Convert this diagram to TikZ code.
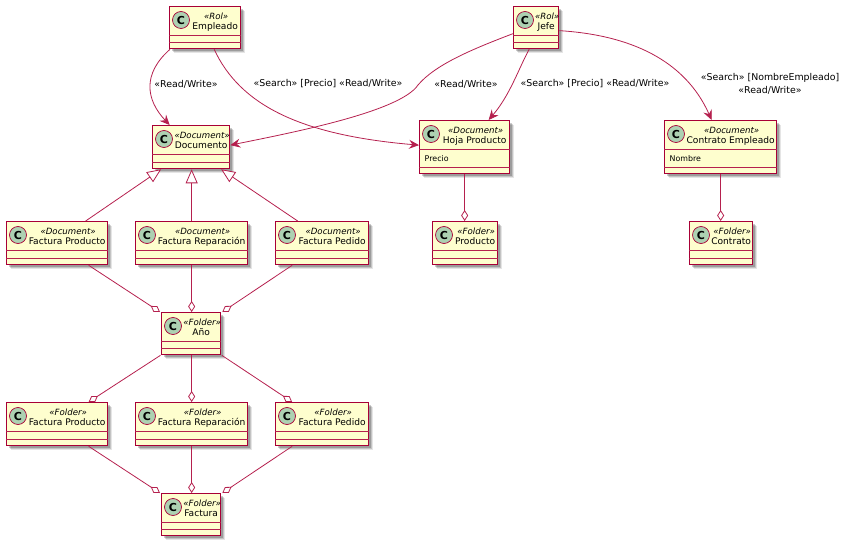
\documentclass[tikz,border=0pt]{standalone}
\usepackage{fontspec}
\setmainfont{DejaVu Sans}
\usepackage{xcolor}
\usetikzlibrary{calc}
\usetikzlibrary{arrows.meta}
\usetikzlibrary{shadows}
\definecolor{umlborder}{HTML}{A80036}
\definecolor{umledgecol}{HTML}{B5204E}
\definecolor{umlfill}{HTML}{FEFECE}
\definecolor{umlicon}{HTML}{ADD1B2}
\tikzset{
  classbox/.style={draw=umlborder, fill=umlfill, line width=1.3pt, inner sep=0pt, anchor=north west,
    drop shadow={shadow xshift=2pt, shadow yshift=-2pt, fill=black, opacity=0.2},
    drop shadow={shadow xshift=3pt, shadow yshift=-3pt, fill=black, opacity=0.15},
    drop shadow={shadow xshift=4.5pt, shadow yshift=-4.5pt, fill=black, opacity=0.1}},
  classicon/.style={circle, draw=umlborder, fill=umlicon, line width=0.7pt, inner sep=0pt, minimum size=17pt,
    font=\fontsize{11}{11}\selectfont\bfseries},
  classline/.style={draw=umledgecol, line width=1pt},
  classstereo/.style={font=\fontsize{8.6}{10}\selectfont\itshape, inner sep=0pt},
  classname/.style={font=\fontsize{9.1}{10}\selectfont, inner sep=0pt},
  classfield/.style={font=\fontsize{7.9}{10}\selectfont, inner sep=0pt, anchor=west},
  edgelabel/.style={font=\fontsize{9.4}{13}\selectfont, inner sep=0pt, align=center},
  umledge/.style={draw=umledgecol, line width=0.8pt},
  access/.style={umledge, -{Stealth[length=10pt, width=9pt, inset=3.5pt]}},
  inherit/.style={umledge, -{Triangle[open, length=14pt, width=12pt, fill=white]}},
  folder/.style={umledge, -{Diamond[open, length=11pt, width=7pt, fill=white]}},
}
% name, left, top, width, height, stereotype, title
\newcommand{\umlclass}[7]{
  \node[classbox, minimum width=#4pt, minimum height=#5pt] (#1) at (#2,#3) {};
  \node[classicon] (#1-c) at ($(#1.north west)+(12,14)$) {C};
  \node[classstereo] (#1-s) at ($(#1.north)+(11,10)$) {«#6»};
  \node[classname] (#1-n) at ($(#1.north)+(10,20.5)$) {#7};
  \draw[classline] ($(#1.north west)+(0,29.5)$) -- ($(#1.north east)+(0,29.5)$);
  \draw[classline] ($(#1.south west)+(0,-6.5)$) -- ($(#1.south east)+(0,-6.5)$);
}
\begin{document}
\begin{tikzpicture}[x=1pt, y=-1pt]
  \useasboundingbox (0,0) rectangle (848,545);
  % Roles
  \umlclass{empleado}{169}{6}{71}{42}{Rol}{Empleado}
  \umlclass{jefe}{513}{6}{45}{42}{Rol}{Jefe}
  % Documents
  \umlclass{documento}{152}{125}{77}{43}{Document}{Documento}
  \umlclass{hoja}{419}{120}{90}{53}{Document}{Hoja Producto}
  \umlclass{contratoemp}{664}{120}{112}{53}{Document}{Contrato Empleado}
  \node[classfield] (hoja-f) at ($(hoja.north west)+(5.5,39)$) {Precio};
  \node[classfield] (contratoemp-f) at ($(contratoemp.north west)+(5.5,39)$) {Nombre};
  \umlclass{docprod}{6}{221}{101}{43}{Document}{Factura Producto}
  \umlclass{docrep}{135}{221}{112}{43}{Document}{Factura Reparación}
  \umlclass{docped}{275}{221}{93}{43}{Document}{Factura Pedido}
  % Folders
  \umlclass{producto}{432}{221}{65}{43}{Folder}{Producto}
  \umlclass{contrato}{689}{221}{63}{43}{Folder}{Contrato}
  \umlclass{anio}{161}{312}{59}{42}{Folder}{Año}
  \umlclass{folprod}{6}{402}{101}{43}{Folder}{Factura Producto}
  \umlclass{folrep}{135}{402}{112}{43}{Folder}{Factura Reparación}
  \umlclass{folped}{275}{402}{93}{43}{Folder}{Factura Pedido}
  \umlclass{factura}{161}{493}{59}{42}{Folder}{Factura}
  % Access from the roles
  \draw[access] ([xshift=1]empleado.south west) .. controls (142,74) and (146,100) .. ([xshift=-21.5]documento.north);
  \draw[access] ([xshift=9]empleado.south) .. controls (240,105) and (300,135) .. ([yshift=2]hoja.west);
  \draw[access] ([yshift=-6]jefe.west) .. controls (470,50) and (435,65) .. (418,85) .. controls (400,112) and (290,133) .. ([yshift=2]documento.east);
  \draw[access] ([xshift=-7]jefe.south) .. controls (518,70) and (510,95) .. ([xshift=24]hoja.north);
  \draw[access] ([yshift=-3]jefe.east) .. controls (630,35) and (685,60) .. ([xshift=-9]contratoemp.north);
  \node[edgelabel] (lbl-a) at (186,84) {«Read/Write»};
  \node[edgelabel] (lbl-b) at (328,84) {«Search» [Precio] «Read/Write»};
  \node[edgelabel] (lbl-c) at (466,84) {«Read/Write»};
  \node[edgelabel] (lbl-d) at (595,84) {«Search» [Precio] «Read/Write»};
  \node[edgelabel] (lbl-e) at (770,84) {«Search» [NombreEmpleado]\\«Read/Write»};
  % Kinds of document
  \draw[inherit] ([xshift=28.5]docprod.north) -- ([xshift=-30]documento.south);
  \draw[inherit] (docrep.north) -- (docrep.north |- documento.south);
  \draw[inherit] ([xshift=-24.5]docped.north) -- ([xshift=30]documento.south);
  % Folder contents
  \draw[folder] ([xshift=31.5]docprod.south) -- ([xshift=-1]anio.north west);
  \draw[folder] (docrep.south) -- (docrep.south |- anio.north);
  \draw[folder] ([xshift=-30]docped.south) -- ([xshift=1]anio.north east);
  \draw[folder] ([xshift=-0.5]anio.south west) -- ([xshift=31.5]folprod.north);
  \draw[folder] (folrep.north |- anio.south) -- (folrep.north);
  \draw[folder] ([xshift=0.5]anio.south east) -- ([xshift=-30]folped.north);
  \draw[folder] ([xshift=31.5]folprod.south) -- ([xshift=-1]factura.north west);
  \draw[folder] (folrep.south) -- (folrep.south |- factura.north);
  \draw[folder] ([xshift=-30]folped.south) -- ([xshift=1]factura.north east);
  \draw[folder] (hoja.south) -- (hoja.south |- producto.north);
  \draw[folder] (contratoemp.south) -- (contratoemp.south |- contrato.north);
\end{tikzpicture}
\end{document}
